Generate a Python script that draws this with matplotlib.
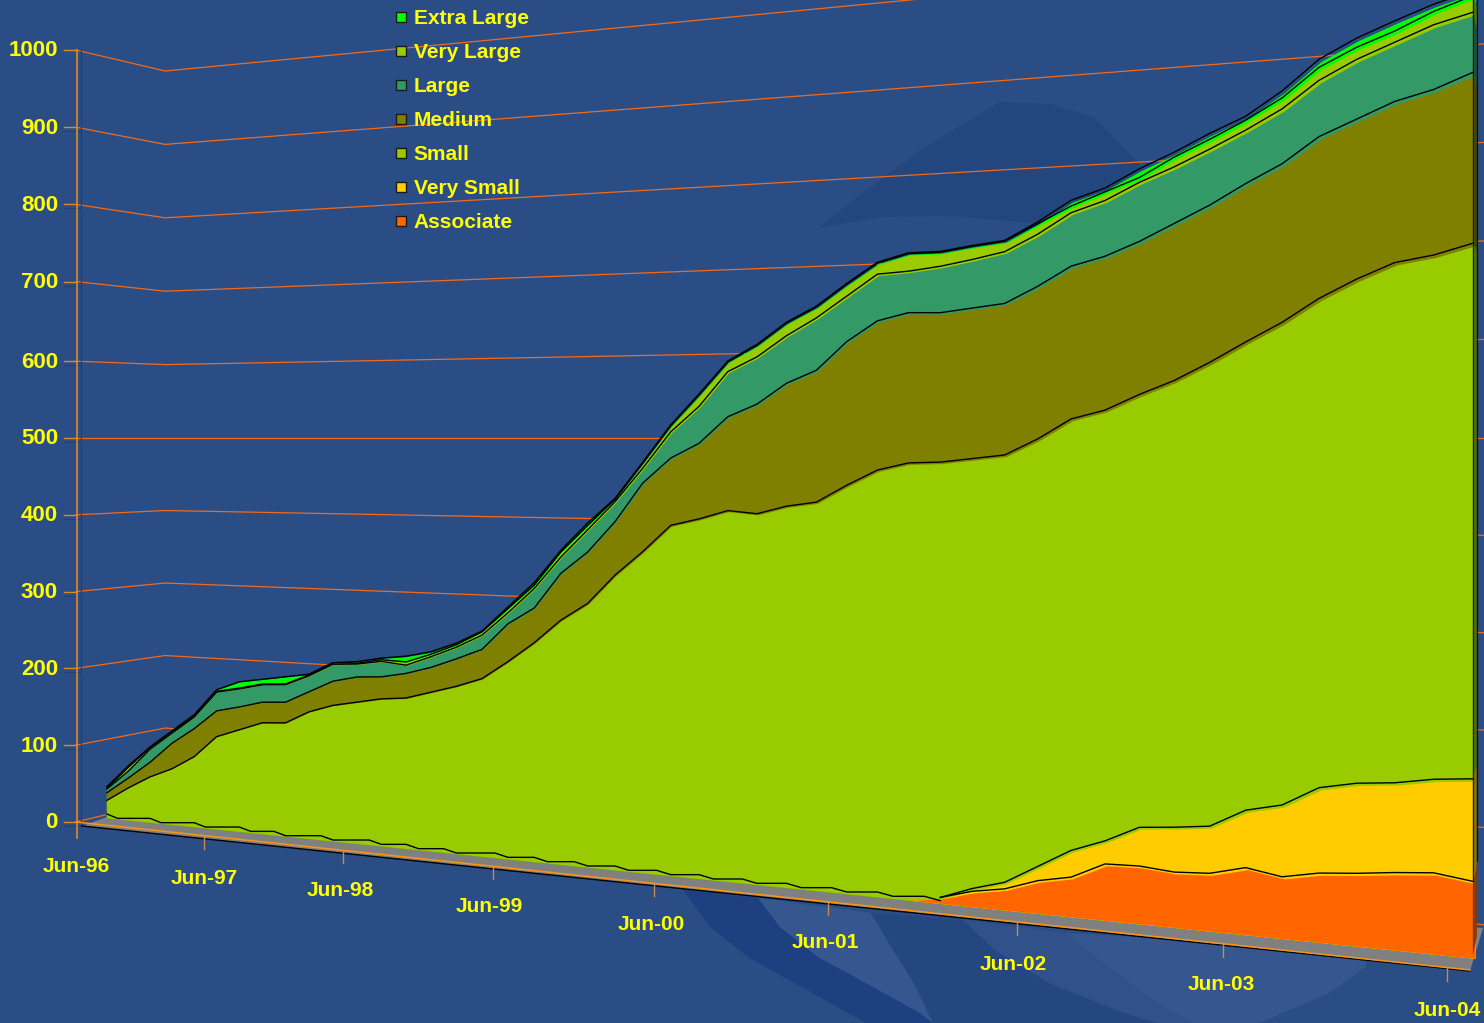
import matplotlib
matplotlib.use('Agg')
import matplotlib.pyplot as plt
import numpy as np
from matplotlib.colors import to_rgb
from matplotlib.transforms import Transform

# months since Jun-96, one reading every two months
months = np.arange(3, 99, 2)

associate = [0,0,0,0,0,0,0,0,0,0,0,0,0,0,0,0,0,0,0,0,0,0,0,0,
             0,0,0,0,0,0,0,0,5,15,21,33,40,57,58,55,57,66,60,67,70,74,77,72]
very_small = [0,0,0,0,0,0,0,0,0,0,0,0,0,0,0,0,0,0,0,0,0,0,0,0,
              0,0,0,0,0,0,0,0,0,3,7,15,28,24,40,46,48,58,72,85,89,88,91,99]
small = [23,42,59,72,90,118,129,140,142,158,168,174,180,183,192,201,212,234,258,286,307,341,369,400,
         408,418,415,424,429,448,465,473,469,460,454,451,452,448,447,458,472,473,484,487,498,510,510,517]
medium = [10,13,19,33,36,33,29,26,26,25,30,31,27,30,30,33,35,45,41,55,60,62,79,77,
          86,106,123,137,146,158,163,163,161,161,161,161,160,160,158,161,160,160,159,161,158,158,161,165]
large = [5,9,17,13,15,24,23,22,22,20,21,16,19,10,13,14,17,13,23,19,26,23,17,30,
         42,51,53,53,58,50,51,45,50,52,55,55,56,58,61,58,57,54,55,56,59,58,63,58]
very_large = [1,5,2,2,1,1,1,1,1,1,2,1,2,4,3,3,4,5,4,6,5,3,6,7,
              13,11,13,14,12,13,12,19,15,14,11,11,7,9,5,10,10,10,11,13,12,11,13,16]
extra_large = [2,2,1,1,2,2,8,6,9,1,0,2,2,7,3,2,1,2,3,2,3,1,1,1,
               1,1,1,1,1,1,1,1,1,1,1,2,6,4,9,5,6,4,7,8,9,10,7,5]

series_names = ['Associate', 'Very Small', 'Small', 'Medium', 'Large', 'Very Large', 'Extra Large']
series_colors = ['#FF6600', '#FFCC00', '#99CC00', '#808000', '#339966', '#99CC00', '#00FF00']

y_ticks = [0, 100, 200, 300, 400, 500, 600, 700, 800, 900, 1000]
x_tick_months = [0, 12, 24, 36, 48, 60, 72, 84, 96]
x_tick_labels = ['Jun-96', 'Jun-97', 'Jun-98', 'Jun-99', 'Jun-00', 'Jun-01', 'Jun-02', 'Jun-03', 'Jun-04']

BG = '#2B4D85'
YELLOW = '#FFFF00'
plt.rcParams['font.family'] = ['Liberation Sans', 'DejaVu Sans']


class Perspective(Transform):
    """(month, value) to pixels on the plane of the series, vanishing far to the left"""
    input_dims = 2
    output_dims = 2

    def __init__(self, front=False):
        super().__init__()
        self.front = front

    def transform_non_affine(self, values):
        values = np.asarray(values, float)
        s = 1.0 / (2.6844e-4 - 7.55e-7 * values[:, 0])
        x = s - 3650
        y = 438 + (500 - values[:, 1]) * s * 2.022e-4
        if self.front:
            frac = (x - 107) / 1366
            x = x + 3 * frac
            y = y + 0.5 + 2.5 * frac
        return np.column_stack([x, y])


def wall_y(x, v):
    # back wall of the chart box, lower half is a little tighter
    k = 1.906e-4 if v >= 500 else 1.883e-4
    return 438 + (500 - v) * (x + 3686) * k


def left_y(v):
    # where a value sits on the axis at the left
    return 822 - 0.768 * v if v <= 600 else 822 - 0.772 * v


def floor_x(m):
    return 1.0 / (2.685e-4 - 7.533e-7 * m) - 3650


def floor_y(x):
    return 822 + (x - 76) * (970 - 822) / (1470 - 76)


fig = plt.figure(figsize=(14.84, 10.23), dpi=100, facecolor=BG)
ax = fig.add_axes([0, 0, 1, 1])
ax.set_xlim(0, 1484)
ax.set_ylim(1023, 0)
ax.axis('off')
ax.set_autoscale_on(False)

# background swooshes
ax.fill([818, 860, 920, 1000, 1050, 1095, 1150, 1120, 1033, 947, 880, 818],
        [228, 195, 150, 102, 104, 118, 175, 240, 223, 216, 217, 228], color='#23467F', lw=0, zorder=1)
# dark band
ax.fill([683, 710, 748, 801, 866, 933, 920, 866, 818, 780, 758],
        [890, 927, 957, 987, 1023, 1023, 1013, 983, 957, 927, 898], color='#1F4080', lw=0, zorder=1)
# light wedge inside it
ax.fill([758, 780, 818, 866, 920, 933, 914, 893, 871],
        [898, 927, 957, 983, 1013, 1023, 983, 950, 913], color='#365690', lw=0, zorder=1)
ax.fill([871, 893, 914, 933, 1157, 1124, 1049, 995, 963],
        [913, 950, 983, 1023, 1023, 1013, 983, 950, 920], color='#24477F', lw=0, zorder=1)
ax.fill([963, 995, 1049, 1124, 1157, 1194, 1157, 1103, 1065],
        [920, 950, 983, 1013, 1023, 1023, 1003, 963, 933], color='#30518A', lw=0, zorder=1)
ax.fill([1065, 1103, 1157, 1194, 1259, 1329, 1366, 1366],
        [933, 963, 1003, 1023, 1023, 993, 967, 950], color='#365690', lw=0, zorder=1)

# gridlines run along the left wall, then along the back wall
for v in y_ticks:
    ax.plot([76, 165, 1484], [left_y(v), wall_y(165, v), wall_y(1484, v)],
            color='#F26A1B', lw=0.9, zorder=2)

# value axis with its shadow
ax.plot([81, 81], [50, 826], color='#22406F', lw=0.9, zorder=2)
ax.plot([76.5, 76.5], [50, 838], color='#E08A1E', lw=1.2, zorder=3)
for v in y_ticks:
    tick_y = left_y(v)
    if v != 1000:
        ax.plot([64, 81], [tick_y + 4, tick_y + 4], color='#22406F', lw=0.7, zorder=2)
    ax.plot([64, 76], [tick_y, tick_y], color='#E08A1E', lw=1, zorder=3)
    ax.text(58, tick_y + 1, str(v), color=YELLOW, fontsize=16, fontweight='bold',
            ha='right', va='center', zorder=10)

# floor of the box
ax.fill([82, 1470, 1483, 107], [826, 971, 928, 817], color='#808080', lw=0, zorder=3)
ax.plot([82, 1470], [826, 971], color='black', lw=1, zorder=3)
ax.plot([76, 1470], [822, 970], color='#F7941D', lw=1.1, zorder=3)

label_x = [76, 204, 340, 489, 651, 825, 1013, 1221, 1447]
label_y = [866, 879, 891, 907, 925, 943, 964, 985, 1010]
for m, lab, lx, ly in zip(x_tick_months, x_tick_labels, label_x, label_y):
    tx = floor_x(m)
    if m > 0:
        ax.plot([tx, tx], [floor_y(tx), floor_y(tx) + 13], color='#C98A4A', lw=1, zorder=3)
    ax.text(lx, ly, lab, color=YELLOW, fontsize=15, fontweight='bold',
            ha='center', va='center', zorder=10)

# stacked bands, painted top down so each lower band covers the ones above
series = [associate, very_small, small, medium, large, very_large, extra_large]
tops = np.cumsum(np.array(series, float), axis=0)
front = Perspective(front=True) + ax.transData
back = Perspective() + ax.transData
for i in range(len(series) - 1, -1, -1):
    ax.fill(np.r_[months, months[::-1]], np.r_[tops[i], np.zeros(len(months))],
            color=series_colors[i], lw=0, zorder=4, transform=front)

# end face on the right
face = Perspective()
lows = np.r_[0.0, tops[:-1, -1]]
for i in range(len(series)):
    (x1, y_low), (_, y_top) = face.transform_non_affine(
        np.array([[months[-1], lows[i]], [months[-1], tops[i, -1]]]))
    shaded = np.array(to_rgb(series_colors[i])) * 0.55
    ax.fill([x1, x1, x1 + 4, x1 + 4],
            [y_low, y_top, 438 + (y_top - 438) * 0.962, 438 + (y_low - 438) * 0.962],
            color=shaded, lw=0, zorder=5)
end_x, end_top = face.transform_non_affine(np.array([[months[-1], tops[-1, -1]]]))[0]
end_low = face.transform_non_affine(np.array([[months[-1], tops[0, -1]]]))[0][1]
ax.plot([end_x, end_x], [end_top, end_low], color='#222200', lw=0.9, zorder=6)
ax.plot([end_x + 4, end_x + 4], [end_top, end_low - 20], color='#111100', lw=0.9, zorder=6)

# back edges of the bands in black
for i in range(len(series) - 1, 1, -1):
    ax.plot(months, tops[i], color='black', lw=1.0, zorder=6, transform=back)
show = months >= 67
ax.plot(months[show], tops[1][show], color='black', lw=1.0, zorder=6, transform=back)
ax.plot(months[show], tops[0][show], color='black', lw=1.0, zorder=6, transform=back)

# base line comes out stepped, as in a coarse raster
base_m = np.arange(3, 68)
base_pts = face.transform_non_affine(np.column_stack([base_m, np.zeros(len(base_m))]))
ax.plot(base_pts[:, 0], np.floor(base_pts[:, 1] / 4.33) * 4.33, color='black', lw=1.0, zorder=6)

# legend
legend_y = [17, 51, 85, 119, 153, 187, 221]
for i, ly in zip(range(len(series) - 1, -1, -1), legend_y):
    ax.plot([400.5], [ly], marker='s', ms=7, color=series_colors[i], mec='#1A1A1A', mew=1,
            ls='none', zorder=10)
    ax.text(413.5, ly + 1, series_names[i], color=YELLOW, fontsize=15, fontweight='bold',
            ha='left', va='center', zorder=10)

fig.savefig('out.png', dpi=100, facecolor=BG)
